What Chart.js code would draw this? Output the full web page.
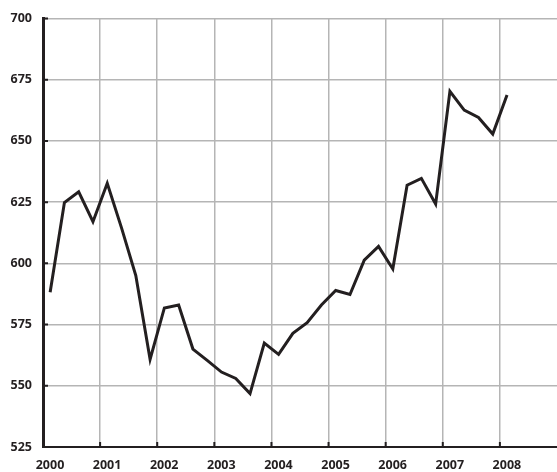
<!DOCTYPE html>
<html>
<head>
<meta charset="utf-8">
<script src="https://cdn.jsdelivr.net/npm/chart.js@4.4.0/dist/chart.umd.min.js"></script>
<style>
  html, body { margin: 0; padding: 0; background: #fff; }
  #wrap { width: 557px; height: 472px; position: relative; }
</style>
</head>
<body>
<div id="wrap"><canvas id="lineChart"></canvas></div>
<script>
// Quarterly readings, one per quarter, 2000 Q1 to 2008 Q1
const quarters = [
    '2000Q1', '2000Q2', '2000Q3', '2000Q4',
    '2001Q1', '2001Q2', '2001Q3', '2001Q4',
    '2002Q1', '2002Q2', '2002Q3', '2002Q4',
    '2003Q1', '2003Q2', '2003Q3', '2003Q4',
    '2004Q1', '2004Q2', '2004Q3', '2004Q4',
    '2005Q1', '2005Q2', '2005Q3', '2005Q4',
    '2006Q1', '2006Q2', '2006Q3', '2006Q4',
    '2007Q1', '2007Q2', '2007Q3', '2007Q4',
    '2008Q1'
];
const values = [
    588.2, 624.8, 629.2, 617.0,
    632.7, 614.5, 595.0, 560.8,
    581.8, 583.0, 565.0, 560.4,
    555.6, 553.0, 546.8, 567.4,
    562.8, 571.4, 575.8, 583.0,
    588.9, 587.3, 601.3, 606.9,
    597.7, 631.9, 634.7, 624.2,
    670.3, 662.6, 659.6, 652.8,
    668.8
];
const yearTicks = [2000, 2001, 2002, 2003, 2004, 2005, 2006, 2007, 2008];
const valueTicks = [525, 550, 575, 600, 625, 650, 675, 700];

const ink = '#231f20';
const gridGrey = '#b5b5b5';

// each quarter sits in the middle of its three months
function quarterToX(q) {
    const year = parseInt(q.slice(0, 4), 10);
    const n = parseInt(q.slice(5), 10);
    return year + (n - 0.5) / 4;
}

const points = quarters.map((q, i) => ({ x: quarterToX(q), y: values[i] }));

// small dark tick marks pointing into the plot
const inwardTicks = {
    id: 'inwardTicks',
    afterDraw(chart) {
        const { ctx, chartArea, scales } = chart;
        ctx.save();
        ctx.strokeStyle = ink;
        ctx.lineWidth = 2;
        ctx.beginPath();
        yearTicks.forEach(v => {
            const x = scales.x.getPixelForValue(v);
            ctx.moveTo(x, chartArea.bottom);
            ctx.lineTo(x, chartArea.bottom - 5);
        });
        valueTicks.forEach(v => {
            const y = scales.y.getPixelForValue(v);
            ctx.moveTo(chartArea.left, y);
            ctx.lineTo(chartArea.left + 5, y);
        });
        ctx.stroke();
        ctx.restore();
    }
};

Chart.defaults.font.family = '"Open Sans", sans-serif';
Chart.defaults.color = ink;

new Chart(document.getElementById('lineChart'), {
    type: 'line',
    data: {
        datasets: [{
            data: points,
            borderColor: ink,
            borderWidth: 3,
            pointRadius: 0,
            tension: 0,
            fill: false
        }]
    },
    options: {
        responsive: true,
        maintainAspectRatio: false,
        animation: false,
        layout: { padding: { top: 17, right: -2, left: 0, bottom: 0 } },
        plugins: {
            legend: { display: false },
            tooltip: { enabled: false }
        },
        scales: {
            x: {
                type: 'linear',
                min: 2000,
                max: 2009,
                afterBuildTicks: s => { s.ticks = yearTicks.map(v => ({ value: v })); },
                afterFit: s => { s.height = 25; },
                grid: { color: gridGrey, lineWidth: 1.5, drawTicks: false },
                border: { color: ink, width: 2 },
                ticks: {
                    padding: 11,
                    labelOffset: 7,
                    maxRotation: 0,
                    font: { size: 12.5, weight: 'bold' },
                    callback: v => String(v)
                }
            },
            y: {
                min: 525,
                max: 700,
                afterBuildTicks: s => { s.ticks = valueTicks.map(v => ({ value: v })); },
                afterFit: s => { s.width = 43; },
                grid: { color: gridGrey, lineWidth: 1.5, drawTicks: false },
                border: { color: ink, width: 3 },
                ticks: {
                    padding: 11,
                    font: { size: 12.5, weight: 'bold' }
                }
            }
        }
    },
    plugins: [inwardTicks]
});
</script>
</body>
</html>
